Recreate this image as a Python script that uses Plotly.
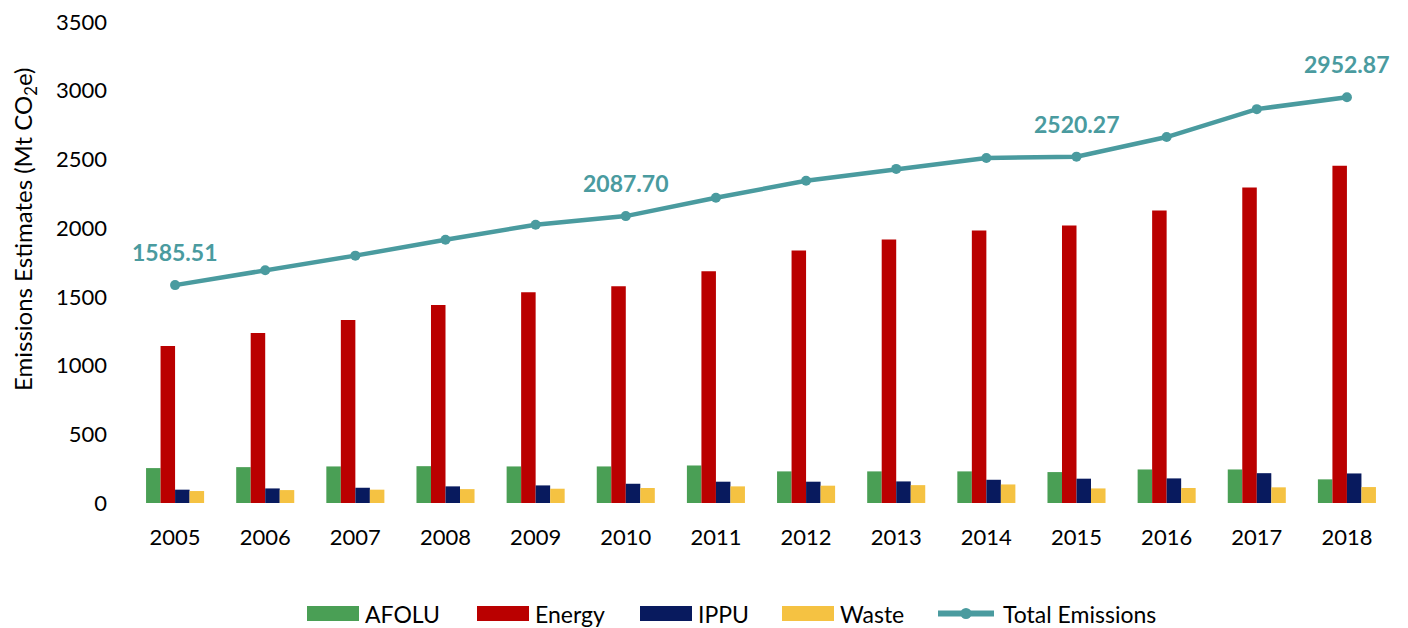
import plotly.graph_objects as go

# data
years = ['2005', '2006', '2007', '2008', '2009', '2010', '2011',
         '2012', '2013', '2014', '2015', '2016', '2017', '2018']
afolu = [254, 261, 266, 268, 266, 266, 273, 230, 230, 230, 225, 244, 244, 172]
energy = [1143, 1237, 1331, 1440, 1534, 1577, 1686, 1838, 1918, 1983, 2019, 2128, 2295, 2454]
ippu = [97, 106, 111, 121, 128, 140, 155, 155, 157, 169, 177, 179, 217, 215]
waste = [87, 94, 97, 101, 104, 109, 121, 126, 130, 135, 106, 109, 114, 116]
total = [1585.51, 1693, 1800, 1916, 2025, 2087.70, 2221, 2345, 2431, 2511,
         2520.27, 2663, 2866, 2952.87]
labelled_years = ['2005', '2010', '2015', '2018']

FONT = 'Lato, Carlito, "Open Sans", sans-serif'
TEAL = '#4a9b9f'

# page body has an 8px margin, so the figure is a bit smaller than the window
OFF = 8
W, H = 1400, 620
ML, MR, MT, MB = 122, 16, 14, 125
PW, PH = W - ML - MR, H - MT - MB

# page pixel -> paper helpers for the legend / title placement
def px2x(px):
    return (px - OFF - ML) / PW

def px2y(py):
    return (H - MB - (py - OFF)) / PH

fig = go.Figure()

bar_series = [('AFOLU', afolu, '#4a9f55'),
              ('Energy', energy, '#ba0000'),
              ('IPPU', ippu, '#081a5e'),
              ('Waste', waste, '#f5c242')]
for name, vals, col in bar_series:
    fig.add_trace(go.Bar(
        x=years, y=vals, name=name,
        marker=dict(color=col, line=dict(width=0)),
    ))

fig.add_trace(go.Scatter(
    x=years, y=total, name='Total Emissions',
    mode='lines+markers',
    line=dict(color=TEAL, width=4.5),
    marker=dict(color=TEAL, size=10),
))

# labels for selected totals
for i, (y, v) in enumerate(zip(years, total)):
    if y in labelled_years:
        fig.add_annotation(x=i, y=v, xref='x', yref='y', text=f'<b>{v:.2f}</b>',
                           showarrow=False, yshift=33, xanchor='center', yanchor='middle',
                           font=dict(family=FONT, size=23, color=TEAL))

# custom legend with wide swatches like the original
leg_y = 613.5
swatch_left = [307, 477, 640, 782]
for (name, vals, col), sx in zip(bar_series, swatch_left):
    fig.add_shape(type='rect', xref='paper', yref='paper',
                  x0=px2x(sx), x1=px2x(sx + 52), y0=px2y(leg_y + 7.5), y1=px2y(leg_y - 7.5),
                  fillcolor=col, line=dict(width=0))
    fig.add_annotation(xref='paper', yref='paper', x=px2x(sx + 56), y=px2y(leg_y),
                       text=name, showarrow=False, xanchor='left', yanchor='middle',
                       font=dict(family=FONT, size=23, color='black'))
fig.add_shape(type='line', xref='paper', yref='paper',
              x0=px2x(938), x1=px2x(994), y0=px2y(leg_y), y1=px2y(leg_y),
              line=dict(color=TEAL, width=6))
fig.add_shape(type='circle', xref='paper', yref='paper',
              x0=px2x(966 - 5.5), x1=px2x(966 + 5.5),
              y0=px2y(leg_y + 5.5), y1=px2y(leg_y - 5.5),
              fillcolor=TEAL, line=dict(width=0))
fig.add_annotation(xref='paper', yref='paper', x=px2x(1001), y=px2y(leg_y),
                   text='Total Emissions', showarrow=False, xanchor='left', yanchor='middle',
                   font=dict(family=FONT, size=23, color='black'))

# y axis title
fig.add_annotation(xref='paper', yref='paper', x=px2x(24), y=px2y(230),
                   text='Emissions Estimates (Mt CO<sub>2</sub>e)', textangle=-90,
                   showarrow=False, xanchor='center', yanchor='middle',
                   font=dict(family=FONT, size=24, color='black'))

fig.update_layout(
    width=W, height=H,
    paper_bgcolor='white', plot_bgcolor='white',
    margin=dict(l=ML, r=MR, t=MT, b=MB),
    barmode='group', bargap=0.356, bargroupgap=0,
    font=dict(family=FONT, size=22, color='black'),
    showlegend=False,
    xaxis=dict(type='category', range=[-0.5, len(years) - 0.5], autorange=False,
               showgrid=False, showline=False, ticks='',
               ticklabelstandoff=19, automargin=False, tickfont=dict(size=22)),
    yaxis=dict(range=[0, 3500], dtick=500, showgrid=False, showline=False,
               zeroline=False, ticks='', ticklabelstandoff=22, automargin=False,
               ticklabeloverflow='allow', tickfont=dict(size=22)),
)

fig.write_html("out.html")
